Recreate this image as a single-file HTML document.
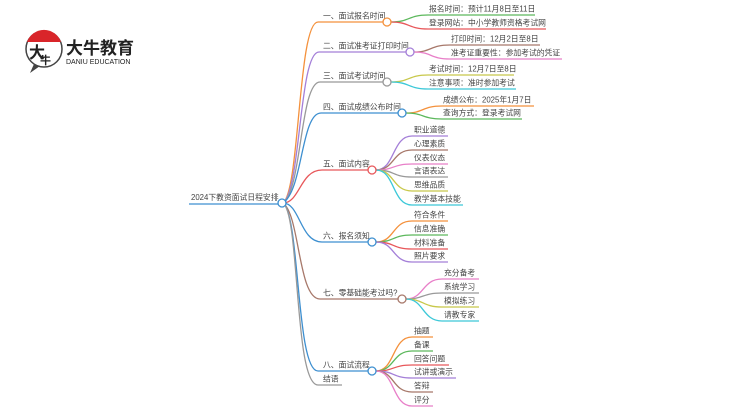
<!DOCTYPE html>
<html><head><meta charset="utf-8"><style>
body{margin:0;background:#fff;}
svg{display:block;}
text{font-family:"Liberation Sans","Noto Sans CJK SC",sans-serif;font-size:7.8px;fill:#444;}
.l{fill:none;stroke-width:1.3;}
circle{fill:#fff;stroke-width:1.3;}
</style></head><body>
<svg width="750" height="410" viewBox="0 0 750 410">
<!-- logo -->
<g>
<circle cx="44" cy="49" r="18" style="fill:#fff;stroke:#444;stroke-width:1.5"/>
<path d="M27,42 A18,18 0 0 1 61,42 Z" fill="#d9252a"/>
<path d="M34,64 L30,73 L40,66 Z" fill="#444"/>
<text x="29" y="58" style="font-size:16px;fill:#222;font-weight:bold">大</text>
<text x="40" y="64" style="font-size:11px;fill:#222;font-weight:bold">牛</text>
<text x="66" y="54" style="font-size:17px;fill:#222;font-weight:bold">大牛教育</text>
<text x="66" y="64" style="font-size:7px;fill:#222">DANIU EDUCATION</text>
</g>

<!-- root -->
<text x="191" y="200">2024下教资面试日程安排</text>
<path class="l" stroke="#3d8fd0" d="M189,204 L279,204"/>

<!-- main branches -->
<path class="l" stroke="#f4913c" d="M283,203 C300,190 298,22 318,22 L383,22"/>
<path class="l" stroke="#a47fd8" d="M283,203 C301,190 299,52 319,52 L406,52"/>
<path class="l" stroke="#999" d="M283,203 C302,190 300,82 320,82 L383,82"/>
<path class="l" stroke="#3d8fd0" d="M283,203 C303,190 301,113 321,113 L398,113"/>
<path class="l" stroke="#e8575a" d="M283,203 C300,203 300,170 322,170 L368,170"/>
<path class="l" stroke="#3d8fd0" d="M283,203 C300,203 300,242 322,242 L368,242"/>
<path class="l" stroke="#a7786a" d="M283,203 C300,215 298,299 320,299 L398,299"/>
<path class="l" stroke="#3d8fd0" d="M283,203 C300,215 296,371 318,371 L368,371"/>
<path class="l" stroke="#999" d="M283,203 C300,215 294,385 318,385 L342,385"/>

<text x="323" y="18.5">一、面试报名时间</text>
<text x="323" y="48.5">二、面试准考证打印时间</text>
<text x="323" y="78.5">三、面试考试时间</text>
<text x="323" y="109.5">四、面试成绩公布时间</text>
<text x="323" y="166.5">五、面试内容</text>
<text x="323" y="238.5">六、报名须知</text>
<text x="323" y="295.5">七、零基础能考过吗?</text>
<text x="323" y="367.5">八、面试流程</text>
<text x="323" y="381.5">结语</text>

<!-- leaves 1 -->
<path class="l" stroke="#5cb85c" d="M391,22 C410,22 408,15 428,15 L535,15"/>
<path class="l" stroke="#e8575a" d="M391,22 C410,22 408,29 428,29 L546,29"/>
<text x="429" y="11.5">报名时间：预计11月8日至11日</text>
<text x="429" y="25.5">登录网站：中小学教师资格考试网</text>
<!-- 2 -->
<path class="l" stroke="#a7786a" d="M414,52 C432,52 430,45 450,45 L540,45"/>
<path class="l" stroke="#e87fc8" d="M414,52 C432,52 430,59 450,59 L562,59"/>
<text x="451" y="41.5">打印时间：12月2日至8日</text>
<text x="451" y="55.5">准考证重要性：参加考试的凭证</text>
<!-- 3 -->
<path class="l" stroke="#c8c84a" d="M391,82 C410,82 408,75 428,75 L514,75"/>
<path class="l" stroke="#3cc8d8" d="M391,82 C410,82 408,89 428,89 L516,89"/>
<text x="429" y="71.5">考试时间：12月7日至8日</text>
<text x="429" y="85.5">注意事项：准时参加考试</text>
<!-- 4 -->
<path class="l" stroke="#f4913c" d="M406,113 C424,113 422,106 442,106 L534,106"/>
<path class="l" stroke="#5cb85c" d="M406,113 C424,113 422,119 442,119 L522,119"/>
<text x="443" y="102.5">成绩公布：2025年1月7日</text>
<text x="443" y="115.5">查询方式：登录考试网</text>
<!-- 5 -->
<path class="l" stroke="#a47fd8" d="M376,170 C395,170 392,136 412,136 L448,136"/>
<path class="l" stroke="#a7786a" d="M376,170 C395,170 392,150 412,150 L448,150"/>
<path class="l" stroke="#e87fc8" d="M376,170 C395,170 392,164 412,164 L448,164"/>
<path class="l" stroke="#999" d="M376,170 C395,170 392,177 412,177 L448,177"/>
<path class="l" stroke="#c8c84a" d="M376,170 C395,170 392,191 412,191 L448,191"/>
<path class="l" stroke="#3cc8d8" d="M376,170 C395,170 392,205 412,205 L463,205"/>
<text x="414" y="132.5">职业道德</text>
<text x="414" y="146.5">心理素质</text>
<text x="414" y="160.5">仪表仪态</text>
<text x="414" y="173.5">言语表达</text>
<text x="414" y="187.5">思维品质</text>
<text x="414" y="201.5">教学基本技能</text>
<!-- 6 -->
<path class="l" stroke="#f4913c" d="M376,242 C395,242 392,221 412,221 L448,221"/>
<path class="l" stroke="#5cb85c" d="M376,242 C395,242 392,235 412,235 L448,235"/>
<path class="l" stroke="#e8575a" d="M376,242 C395,242 392,249 412,249 L448,249"/>
<path class="l" stroke="#a47fd8" d="M376,242 C395,242 392,262 412,262 L448,262"/>
<text x="414" y="217.5">符合条件</text>
<text x="414" y="231.5">信息准确</text>
<text x="414" y="245.5">材料准备</text>
<text x="414" y="258.5">照片要求</text>
<!-- 7 -->
<path class="l" stroke="#e87fc8" d="M406,299 C424,299 422,279 442,279 L479,279"/>
<path class="l" stroke="#999" d="M406,299 C424,299 422,293 442,293 L479,293"/>
<path class="l" stroke="#c8c84a" d="M406,299 C424,299 422,307 442,307 L479,307"/>
<path class="l" stroke="#3cc8d8" d="M406,299 C424,299 422,321 442,321 L479,321"/>
<text x="444" y="275.5">充分备考</text>
<text x="444" y="289.5">系统学习</text>
<text x="444" y="303.5">模拟练习</text>
<text x="444" y="317.5">请教专家</text>
<!-- 8 -->
<path class="l" stroke="#f4913c" d="M376,371 C395,371 392,337 412,337 L433,337"/>
<path class="l" stroke="#5cb85c" d="M376,371 C395,371 392,351 412,351 L433,351"/>
<path class="l" stroke="#e8575a" d="M376,371 C395,371 392,365 412,365 L449,365"/>
<path class="l" stroke="#a47fd8" d="M376,371 C395,371 392,378 412,378 L456,378"/>
<path class="l" stroke="#a7786a" d="M376,371 C395,371 392,392 412,392 L433,392"/>
<path class="l" stroke="#e87fc8" d="M376,371 C395,371 392,406 412,406 L433,406"/>
<text x="414" y="333.5">抽题</text>
<text x="414" y="347.5">备课</text>
<text x="414" y="361.5">回答问题</text>
<text x="414" y="374.5">试讲或演示</text>
<text x="414" y="388.5">答辩</text>
<text x="414" y="402.5">评分</text>

<!-- circles -->
<circle cx="282" cy="203" r="4" stroke="#3d8fd0"/>
<circle cx="387" cy="22" r="4" stroke="#f4913c"/>
<circle cx="410" cy="52" r="4" stroke="#a47fd8"/>
<circle cx="387" cy="82" r="4" stroke="#999"/>
<circle cx="402" cy="113" r="4" stroke="#3d8fd0"/>
<circle cx="372" cy="170" r="4" stroke="#e8575a"/>
<circle cx="372" cy="242" r="4" stroke="#3d8fd0"/>
<circle cx="402" cy="299" r="4" stroke="#a7786a"/>
<circle cx="372" cy="371" r="4" stroke="#3d8fd0"/>
</svg>
</body></html>
